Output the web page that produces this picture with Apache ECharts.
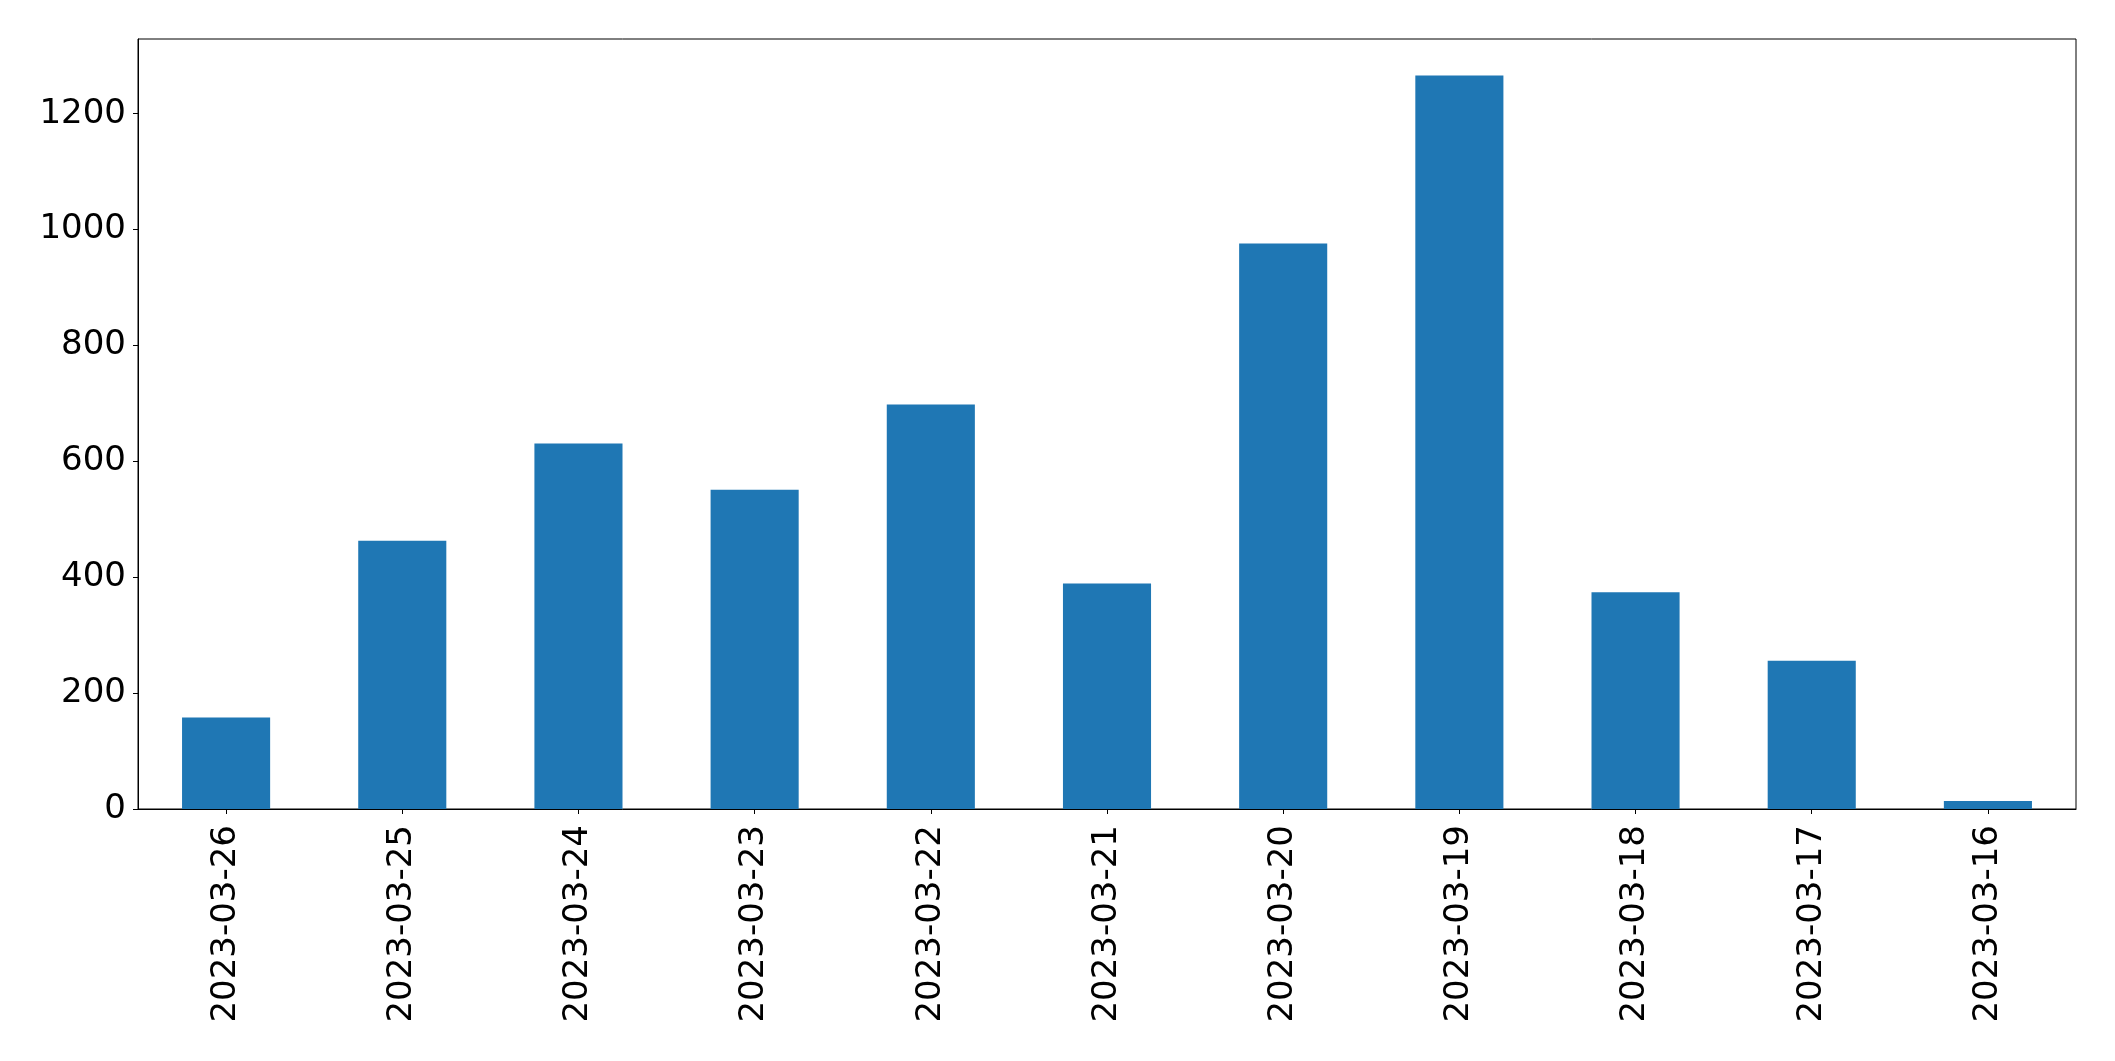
<!DOCTYPE html>
<html>
<head>
<meta charset="utf-8">
<script src="https://cdn.jsdelivr.net/npm/echarts@6/dist/echarts.min.js"></script>
<style>
  html, body { margin: 0; padding: 0; background: #fff; }
  #chart { width: 2115px; height: 1061px; }
</style>
</head>
<body>
<div id="chart"></div>
<script>
var dates = ['2023-03-26', '2023-03-25', '2023-03-24', '2023-03-23', '2023-03-22', '2023-03-21',
             '2023-03-20', '2023-03-19', '2023-03-18', '2023-03-17', '2023-03-16'];
var counts = [158, 463, 631, 551, 698, 389, 976, 1266, 374, 256, 14];
var yTicks = [0, 200, 400, 600, 800, 1000, 1200];

var chart = echarts.init(document.getElementById('chart'));

var option = {
    animation: false,
    grid: {
        left: 138,
        right: 39,
        top: 39,
        bottom: 252,
        show: true,
        borderColor: '#000',
        borderWidth: 1,
        backgroundColor: '#fff'
    },
    xAxis: {
        type: 'category',
        data: dates,
        boundaryGap: true,
        axisLine: { show: true, lineStyle: { color: '#000', width: 1 } },
        axisTick: { show: true, alignWithLabel: true, length: 5, lineStyle: { color: '#000' } },
        axisLabel: {
            rotate: 90,
            margin: 16,
            color: '#000',
            fontSize: 34,
            fontFamily: 'DejaVu Sans'
        },
        splitLine: { show: false }
    },
    yAxis: {
        type: 'value',
        min: 0,
        max: 1329,
        interval: 200,
        axisLine: { show: true, lineStyle: { color: '#000', width: 1 } },
        axisTick: { show: true, length: 5, lineStyle: { color: '#000' }, customValues: yTicks },
        axisLabel: {
            margin: 12,
            color: '#000',
            fontSize: 34,
            fontFamily: 'DejaVu Sans',
            customValues: yTicks,
            formatter: function (v) { return String(v); }
        },
        splitLine: { show: false }
    },
    series: [{
        type: 'bar',
        data: counts,
        barWidth: '50%',
        itemStyle: { color: '#1f77b4' }
    }]
};

chart.setOption(option);
</script>
</body>
</html>
